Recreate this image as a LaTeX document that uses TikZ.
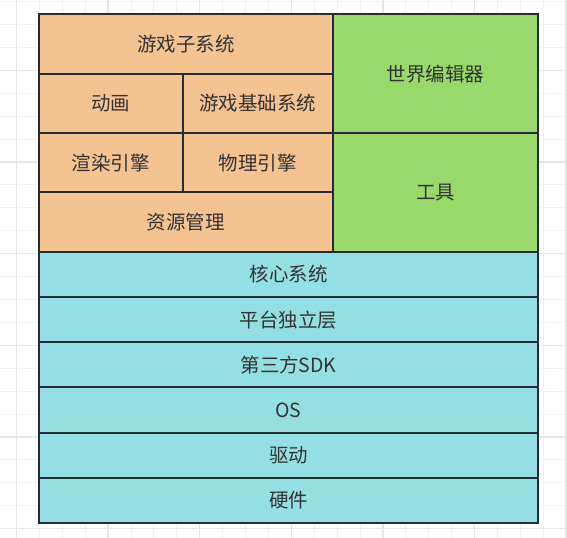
\documentclass[tikz,border=0pt]{standalone}
\usepackage{fontspec}
\setmainfont{Noto Sans CJK SC}
\usetikzlibrary{positioning}

\definecolor{boxorange}{HTML}{F5C291}
\definecolor{boxgreen}{HTML}{97D96A}
\definecolor{boxcyan}{HTML}{93DFE1}
\definecolor{boxline}{HTML}{262C31}
\definecolor{boxtext}{HTML}{333333}
\definecolor{gridminor}{HTML}{F1F1F1}
\definecolor{gridmajor}{HTML}{E6E6E6}

\begin{document}
\begin{tikzpicture}[
    x=0.75pt, y=-0.75pt,
    node distance=0pt,
    layer/.style={rectangle, draw=boxline, line width=1.5pt, outer sep=0pt, inner sep=0pt, text=boxtext, font=\fontsize{14.6}{17}\selectfont, align=center},
    orangebox/.style={layer, fill=boxorange, minimum height=44.5pt},
    greenbox/.style={layer, fill=boxgreen, minimum width=154.2pt, minimum height=88.95pt},
    cyanbox/.style={layer, fill=boxcyan, minimum width=374.6pt, minimum height=33.9pt}
]

% background grid
\fill[white] (0,0) rectangle (567,538);
\useasboundingbox (0,0) rectangle (567,538);
\foreach \i in {0,...,24}
    \draw[gridminor, line width=0.75pt] (16.5+22.9*\i,0) -- (16.5+22.9*\i,538);
\foreach \j in {0,...,23}
    \draw[gridminor, line width=0.75pt] (0,1.8+22.9*\j) -- (567,1.8+22.9*\j);
\foreach \i in {0,4,...,24}
    \draw[gridmajor, line width=1pt] (16.5+22.9*\i,0) -- (16.5+22.9*\i,538);
\foreach \j in {3,7,...,23}
    \draw[gridmajor, line width=1pt] (0,1.8+22.9*\j) -- (567,1.8+22.9*\j);

% engine layers
\node[orangebox, minimum width=220.5pt, anchor=north west] (subsys) at (38.8,14.5) {游戏子系统};
\node[orangebox, minimum width=107.8pt, below right=0pt of subsys.south west] (anim) {动画};
\node[orangebox, minimum width=112.5pt, right=of anim] (gamebase) {游戏基础系统};
\node[orangebox, minimum width=107.8pt, below right=0pt of anim.south west] (render) {渲染引擎};
\node[orangebox, minimum width=112.5pt, right=of render] (physics) {物理引擎};
\node[orangebox, minimum width=220.5pt, below right=0pt of render.south west] (resource) {资源管理};

\node[greenbox, below right=0pt of subsys.north east] (editor) {世界编辑器};
\node[greenbox, below=of editor] (tools) {工具};

\node[cyanbox, below right=0pt of resource.south west] (core) {核心系统};
\node[cyanbox, below=of core] (platform) {平台独立层};
\node[cyanbox, below=of platform] (sdk) {第三方SDK};
\node[cyanbox, below=of sdk] (os) {OS};
\node[cyanbox, below=of os] (driver) {驱动};
\node[cyanbox, below=of driver] (hardware) {硬件};

\end{tikzpicture}
\end{document}
